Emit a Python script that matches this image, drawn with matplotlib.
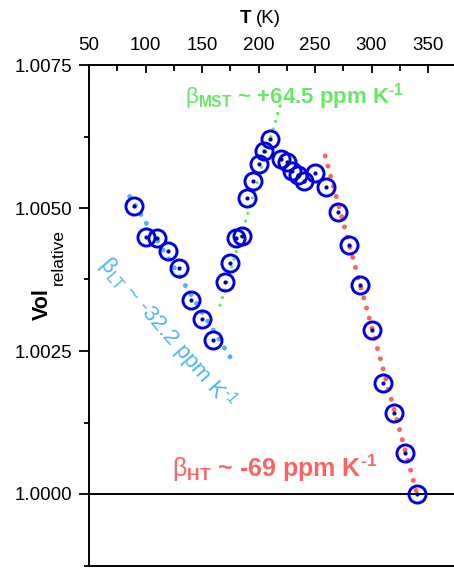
import matplotlib
matplotlib.use("Agg")
import matplotlib.pyplot as plt
from matplotlib.ticker import FormatStrFormatter, MultipleLocator

plt.rcParams['font.family'] = ['Liberation Sans', 'DejaVu Sans']
plt.rcParams['mathtext.fontset'] = 'custom'
plt.rcParams['mathtext.rm'] = 'Liberation Sans'
plt.rcParams['mathtext.bf'] = 'Liberation Sans:bold'
plt.rcParams['mathtext.it'] = 'Liberation Sans:italic'

# %% Datos
temps = [90, 100, 110, 120, 130, 140, 150, 160,
         170, 175, 180, 185, 190, 195, 200, 205, 210,
         220, 225, 230, 235, 240, 250, 260, 270, 280, 290, 300, 310, 320, 330, 340]
vol = [1.00504, 1.00449, 1.00448, 1.00425, 1.00395, 1.00339, 1.00306, 1.00269,
       1.00371, 1.00404, 1.00448, 1.00451, 1.00518, 1.00547, 1.00577, 1.00600, 1.00621,
       1.00585, 1.00580, 1.00565, 1.00558, 1.00547, 1.00561, 1.00537, 1.00493, 1.00435,
       1.00365, 1.00287, 1.00194, 1.00142, 1.00072, 1.00000]

# ajustes lineales (extremos)
lt_fit_T = [86, 176]
lt_fit_V = [1.00520, 1.00236]
mst_fit_T = [166, 220]
mst_fit_V = [1.00330, 1.00684]
ht_fit_T = [259, 341]
ht_fit_V = [1.00591, 0.99995]

x_ticks = [50, 100, 150, 200, 250, 300, 350]
y_ticks = [1.0000, 1.0025, 1.0050, 1.0075]

c_lt = '#4db5f0'
c_mst = '#66e866'
c_ht = '#fa6464'
c_pts = '#0000e0'

# %% Figura
fig = plt.figure(figsize=(4.54, 5.68), dpi=100)
ax = fig.add_axes([89 / 454, 1 - 565.5 / 568, 1 - 89 / 454, (565.5 - 65) / 568])
ax.set_xlim(50, 373)
ax.set_ylim(0.99875, 1.0075)

dot = (0, (0.001, 2.1))
ax.plot(lt_fit_T, lt_fit_V, color=c_lt, lw=3.6, linestyle=dot, dash_capstyle='round')
ax.plot(mst_fit_T, mst_fit_V, color=c_mst, lw=2.4, linestyle=(0, (0.001, 2.4)), dash_capstyle='round')
ax.plot(ht_fit_T, ht_fit_V, color=c_ht, lw=3.6, linestyle=dot, dash_capstyle='round')

ax.axhline(1.0, color='black', lw=1.4, zorder=1)

ax.plot(temps, vol, 'o', ms=12.3, mfc='none', mec=c_pts, mew=2.1, zorder=3)
ax.plot(temps, vol, 'o', ms=2.0, color='#0000a0', zorder=4)

# ejes
ax.spines['right'].set_visible(False)
for s in ['left', 'top', 'bottom']:
    ax.spines[s].set_linewidth(1.4)
ax.xaxis.tick_top()
ax.set_xticks(x_ticks)
ax.xaxis.set_minor_locator(MultipleLocator(25))
ax.set_yticks(y_ticks)
ax.yaxis.set_minor_locator(MultipleLocator(0.00125))
ax.yaxis.set_major_formatter(FormatStrFormatter('%.4f'))
ax.tick_params(axis='x', which='both', direction='in', top=True, bottom=False,
               labeltop=True, labelbottom=False, width=1.3, labelsize=13.5, pad=8)
ax.tick_params(axis='x', which='major', length=5.5)
ax.tick_params(axis='x', which='minor', length=4)
ax.tick_params(axis='y', which='major', direction='out', length=7.2, width=1.3,
               labelsize=13.5, pad=5)
ax.tick_params(axis='y', which='minor', direction='out', length=3.6, width=1.3)

# titulos de ejes
fig.text(251 / 454, 1 - 18.5 / 568, 'T', ha='right', va='center', fontsize=13.5, fontweight='bold')
fig.text(256 / 454, 1 - 18.5 / 568, '(K)', ha='left', va='center', fontsize=13.5)
fig.text(42 / 454, 1 - 304 / 568, 'Vol', rotation=90, ha='center', va='center',
         fontsize=15.5, fontweight='bold')
fig.text(58 / 454, 1 - 257 / 568, 'relative', rotation=90, ha='center', va='center',
         fontsize=12.5)

# anotaciones
hy = '\u2010'
fig.text(185 / 454, 1 - 103 / 568,
         r'$\mathrm{β}_{\mathdefault{MST}}$ ~ +64.5 ppm K$^{\mathdefault{' + hy + '1}}$',
         color=c_mst, fontsize=16, fontweight='bold', ha='left', va='baseline')
fig.text(172 / 454, 1 - 477 / 568,
         r'$\mathrm{β}_{\mathdefault{HT}}$ ~ -69 ppm K$^{\mathdefault{' + hy + '1}}$',
         color=c_ht, fontsize=18, fontweight='bold', ha='left', va='baseline')
fig.text(167 / 454, 1 - 333 / 568,
         r'$\mathrm{β}_{\mathdefault{LT}}$ ~ -32.2 ppm K$^{\mathdefault{' + hy + '1}}$',
         color=c_lt, fontsize=16, rotation=-49, rotation_mode='anchor',
         ha='center', va='center')

fig.savefig('out.png', dpi=100)
